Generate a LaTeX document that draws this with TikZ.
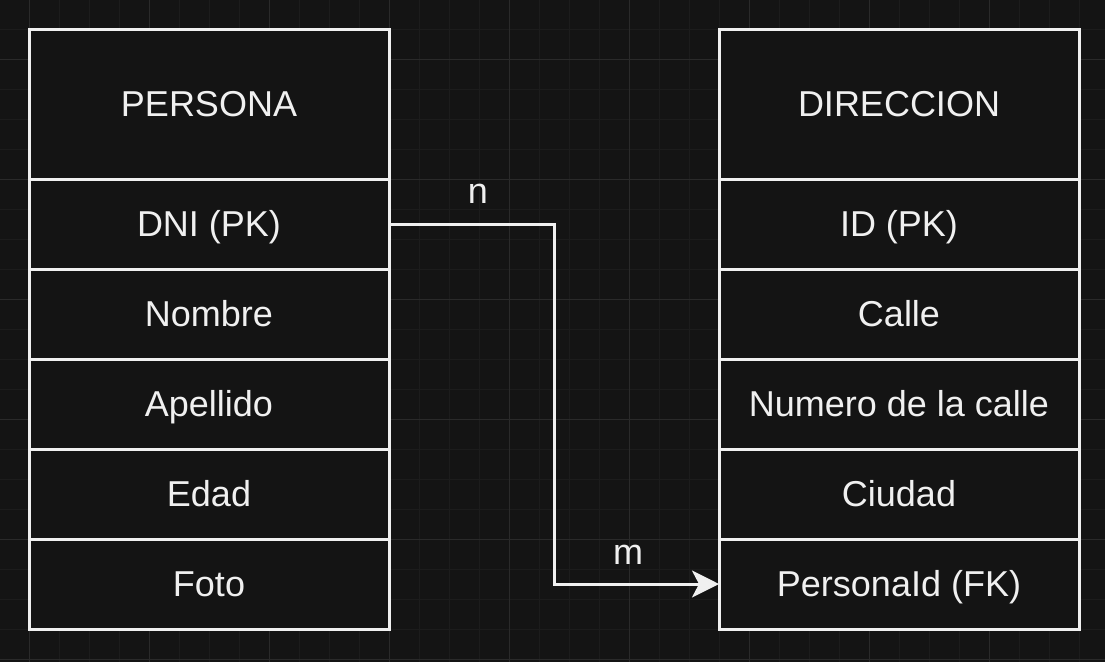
\documentclass[tikz,border=0pt]{standalone}
\usepackage{fontspec}
\setmainfont{Liberation Sans}
\usepackage{tikz}
\usetikzlibrary{arrows.meta, positioning}

\definecolor{bgdark}{HTML}{141414}
\definecolor{gridminor}{HTML}{1C1C1C}
\definecolor{gridmajor}{HTML}{2A2A2A}
\definecolor{inkwhite}{HTML}{F0F0F0}

\begin{document}
\begin{tikzpicture}[
    x=1pt, y=-1pt,
    >=Stealth,
    field/.style={rectangle, draw=inkwhite, fill=bgdark, line width=3pt,
                  minimum width=360pt, minimum height=90pt, outer sep=0pt,
                  text=inkwhite, font=\fontsize{36}{43}\selectfont,
                  text height=25.8pt, text depth=0pt},
    header/.style={field, minimum height=150pt},
    relation/.style={draw=inkwhite, line width=3pt,
                     -{Stealth[length=27pt, width=27pt, inset=7pt]}},
    cardinal/.style={text=inkwhite, font=\fontsize{36}{43}\selectfont,
                     text height=18.7pt, text depth=0pt},
]
    % ── Background and grid ───────────────────────
    \fill[bgdark] (0,0) rectangle (1105,662);
    \useasboundingbox (0,0) rectangle (1105,662);
    \foreach \gx in {29,59,...,1100}
        \draw[gridminor, line width=1pt] (\gx,0) -- (\gx,662);
    \foreach \gy in {29,59,...,660}
        \draw[gridminor, line width=1pt] (0,\gy) -- (1105,\gy);
    \foreach \gx in {29,149,...,1100}
        \draw[gridmajor, line width=1pt] (\gx,0) -- (\gx,662);
    \foreach \gy in {59,179,...,660}
        \draw[gridmajor, line width=1pt] (0,\gy) -- (1105,\gy);

    % ── PERSONA table ─────────────────────────────
    \node[header] (persona) at (209,104) {PERSONA};
    \node[field, below=0pt of persona] (dni) {DNI (PK)};
    \node[field, below=0pt of dni] (nombre) {Nombre};
    \node[field, below=0pt of nombre] (apellido) {Apellido};
    \node[field, below=0pt of apellido] (edad) {Edad};
    \node[field, below=0pt of edad] (foto) {Foto};

    % ── DIRECCION table ───────────────────────────
    \node[header] (direccion) at (899,104) {DIRECCION};
    \node[field, below=0pt of direccion] (id) {ID (PK)};
    \node[field, below=0pt of id] (calle) {Calle};
    \node[field, below=0pt of calle] (numero) {Numero de la calle};
    \node[field, below=0pt of numero] (ciudad) {Ciudad};
    \node[field, below=0pt of ciudad] (personaid) {PersonaId (FK)};

    % ── Relation n:m ──────────────────────────────
    \draw[relation] (dni.east) -- ++(165,0) coordinate (bend)
         |- (personaid.west);
    \node[cardinal] (ncard) at (478,194) {n};
    \node[cardinal] (mcard) at (628,555) {m};
\end{tikzpicture}
\end{document}
